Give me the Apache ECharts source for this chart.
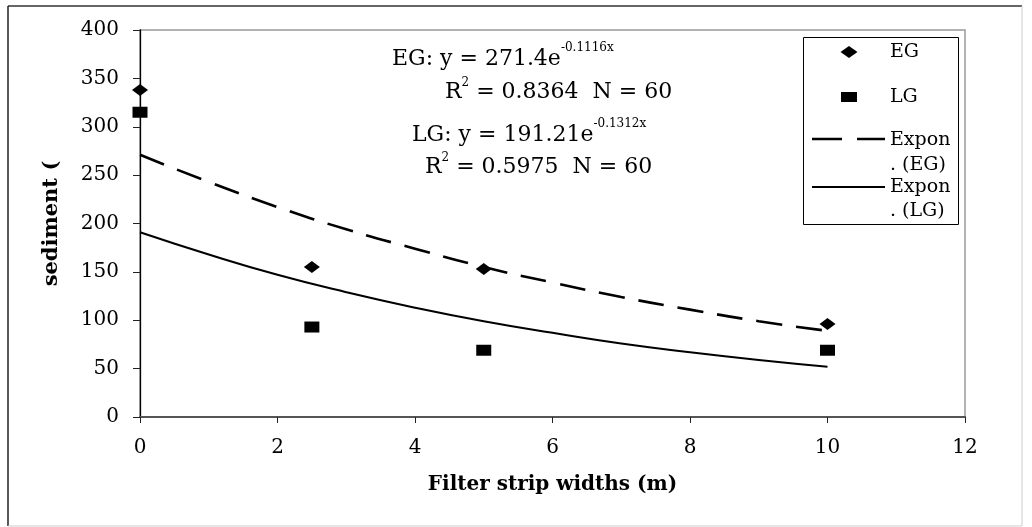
<!DOCTYPE html>
<html>
<head>
<meta charset="utf-8">
<script src="https://cdn.jsdelivr.net/npm/echarts@6/dist/echarts.min.js"></script>
<style>
  html, body { margin: 0; padding: 0; background: #fff; }
  #main { width: 1032px; height: 527px; }
</style>
</head>
<body>
<div id="main"></div>
<script>
var widths = [0, 2.5, 5, 10];
var egValues = [338, 155, 153, 96];
var lgValues = [315, 93, 69, 69];

// trend lines
var trendX = [0, 1, 2, 3, 4, 5, 6, 7, 8, 9, 10];
var egTrend = [271, 243, 217, 194, 174, 155, 139, 124, 111, 99, 89];
var lgTrend = [191, 168, 147, 129, 113, 99, 87, 76, 67, 59, 52];

var xTicks = [0, 2, 4, 6, 8, 10, 12];
var yTicks = [0, 50, 100, 150, 200, 250, 300, 350, 400];

var font = 'DejaVu Serif';

function pairs(xs, ys) {
    return xs.map(function (x, i) { return [x, ys[i]]; });
}

var chart = echarts.init(document.getElementById('main'));

var sup = function (text, x, y, raise) {
    return {
        type: 'text',
        x: x,
        y: y,
        style: {
            text: text,
            font: '22px "' + font + '"',
            fill: '#000',
            verticalAlign: 'middle',
            align: 'left',
            rich: {
                b: { fontFamily: font, fontSize: 22, lineHeight: 22, color: '#000' },
                s: { fontFamily: font, fontSize: 12, lineHeight: 12, color: '#000', padding: [0, 0, raise, 0] }
            }
        }
    };
};

var legendText = function (text, y) {
    return { type: 'text', x: 890, y: y, style: { text: text, font: '19px "' + font + '"', fill: '#000', verticalAlign: 'middle' }, z: 11 };
};

var option = {
    animation: false,
    backgroundColor: '#fff',
    grid: {
        left: 140,
        right: 67,
        top: 30,
        bottom: 110,
        show: true,
        borderColor: '#999',
        borderWidth: 1.5
    },
    xAxis: {
        type: 'value',
        min: xTicks[0],
        max: xTicks[xTicks.length - 1],
        interval: 2,
        name: 'Filter strip widths (m)',
        nameLocation: 'middle',
        nameGap: 58,
        nameTextStyle: { fontFamily: font, fontSize: 20, fontWeight: 'bold', color: '#000' },
        axisLine: { lineStyle: { color: '#555', width: 2 } },
        axisTick: { show: true, inside: false, length: 6, lineStyle: { color: '#222', width: 1 } },
        axisLabel: { fontFamily: font, fontSize: 20, color: '#000', margin: 21 },
        splitLine: { show: false }
    },
    yAxis: {
        type: 'value',
        min: yTicks[0],
        max: yTicks[yTicks.length - 1],
        interval: 50,
        name: 'sediment (',
        nameLocation: 'middle',
        nameGap: 78,
        nameRotate: 90,
        nameTextStyle: { fontFamily: font, fontSize: 21, fontWeight: 'bold', color: '#000' },
        axisLine: { lineStyle: { color: '#000', width: 1.3 } },
        axisTick: { show: true, inside: false, length: 7, lineStyle: { color: '#222', width: 1 } },
        axisLabel: { fontFamily: font, fontSize: 20, color: '#000', margin: 21 },
        splitLine: { show: false }
    },
    series: [
        {
            name: 'Expon. (EG)',
            type: 'line',
            data: pairs(trendX, egTrend),
            smooth: true,
            showSymbol: false,
            symbol: 'none',
            lineStyle: { color: '#000', width: 2.6, type: [26, 14] },
            z: 2
        },
        {
            name: 'Expon. (LG)',
            type: 'line',
            data: pairs(trendX, lgTrend),
            smooth: true,
            showSymbol: false,
            symbol: 'none',
            lineStyle: { color: '#000', width: 2 },
            z: 2
        },
        {
            name: 'EG',
            type: 'scatter',
            data: pairs(widths, egValues),
            symbol: 'diamond',
            symbolSize: [16, 12],
            itemStyle: { color: '#000', opacity: 1 },
            z: 3
        },
        {
            name: 'LG',
            type: 'scatter',
            data: pairs(widths, lgValues),
            symbol: 'rect',
            symbolSize: [15, 11],
            itemStyle: { color: '#000', opacity: 1 },
            z: 3
        }
    ],
    graphic: [
        // outer frame
        { type: 'line', shape: { x1: 8, y1: 6, x2: 1022, y2: 6 }, style: { stroke: '#333', lineWidth: 1.5 } },
        { type: 'line', shape: { x1: 8, y1: 6, x2: 8, y2: 526 }, style: { stroke: '#222', lineWidth: 1.5 } },
        { type: 'line', shape: { x1: 8, y1: 526, x2: 1022, y2: 526 }, style: { stroke: '#ccc', lineWidth: 1 } },
        { type: 'line', shape: { x1: 1022, y1: 6, x2: 1022, y2: 526 }, style: { stroke: '#ccc', lineWidth: 1 } },

        // legend box
        { type: 'rect', shape: { x: 803.5, y: 37.5, width: 155, height: 187 }, style: { fill: '#fff', stroke: '#000', lineWidth: 1 }, z: 10 },
        { type: 'polygon', shape: { points: [[849, 46], [857.5, 52], [849, 58], [840.5, 52]] }, style: { fill: '#000' }, z: 11 },
        { type: 'rect', shape: { x: 841, y: 92, width: 16, height: 10 }, style: { fill: '#000' }, z: 11 },
        { type: 'line', shape: { x1: 812, y1: 139, x2: 885, y2: 139 }, style: { stroke: '#000', lineWidth: 2.6, lineDash: [30, 15] }, z: 11 },
        { type: 'line', shape: { x1: 812, y1: 187, x2: 885, y2: 187 }, style: { stroke: '#000', lineWidth: 2.2 }, z: 11 },
        legendText('EG', 52),
        legendText('LG', 97),
        legendText('Expon', 140),
        legendText('. (EG)', 165),
        legendText('Expon', 187),
        legendText('. (LG)', 211),

        // trend equations
        sup('{b|EG: y = 271.4e}{s|-0.1116x}', 392, 59, 22),
        sup('{b|R}{s|2}{b| = 0.8364  N = 60}', 445, 92, 18),
        sup('{b|LG: y = 191.21e}{s|-0.1312x}', 412, 135, 22),
        sup('{b|R}{s|2}{b| = 0.5975  N = 60}', 425, 167, 18)
    ]
};

chart.setOption(option);
</script>
</body>
</html>
